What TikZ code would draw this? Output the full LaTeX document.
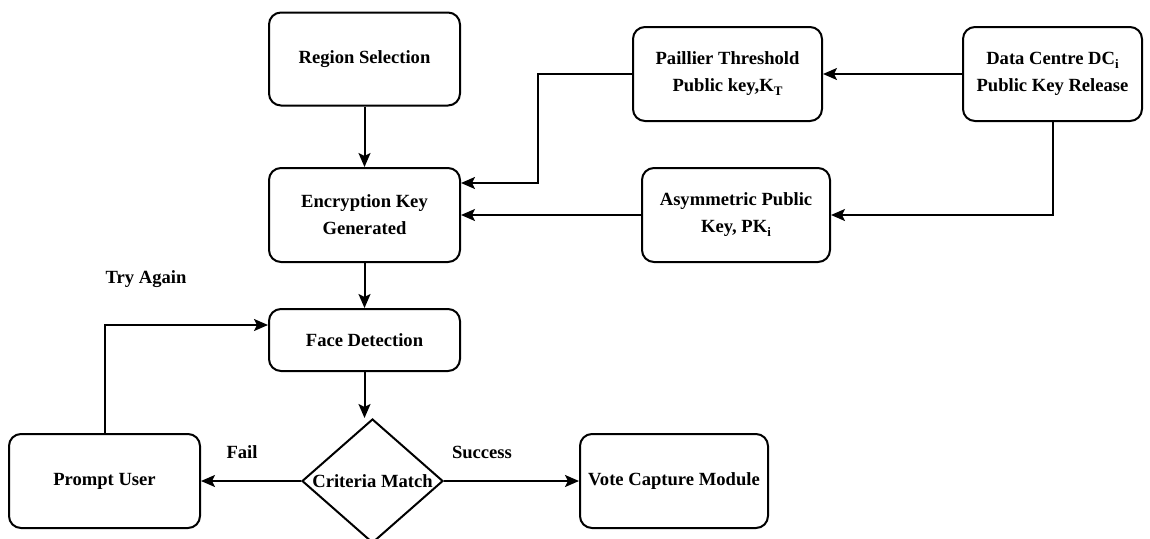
\documentclass[tikz,border=0pt]{standalone}
\usepackage{fontspec}
\setmainfont{Liberation Serif}
\usetikzlibrary{shapes.geometric,arrows.meta}
\newcommand\sbs[1]{\raisebox{-0.4ex}{\fontsize{13}{13}\selectfont #1}}
\begin{document}
\begin{tikzpicture}[x=1pt,y=-1pt,
  box/.style={draw,line width=2pt,rounded corners=12pt,align=center,inner sep=2pt},
  lbl/.style={font=\fontsize{18.6}{27}\selectfont\bfseries},
  arr/.style={line width=2pt,-{Stealth[length=14pt,width=12pt,inset=3pt]}},
  every node/.style={font=\fontsize{18.6}{27}\selectfont\bfseries}]
\clip (0,0) rectangle (1150,538);
\fill[white] (0,0) rectangle (1150,538);
\node[box,minimum width=191pt,minimum height=93pt] (rs) at (364.5,59) {Region Selection};
\node[box,minimum width=191pt,minimum height=94pt] (ekg) at (364.5,215) {Encryption Key\\Generated};
\node[box,minimum width=189pt,minimum height=94pt] (pt) at (727.5,74) {Paillier Threshold\\Public key,K\sbs{T}};
\node[box,minimum width=179pt,minimum height=94pt] (dc) at (1052.5,74) {Data Centre DC\sbs{i}\\Public Key Release};
\node[box,minimum width=188pt,minimum height=94pt] (ak) at (736,215) {Asymmetric Public\\Key, PK\sbs{i}};
\node[box,minimum width=191pt,minimum height=62pt] (fd) at (364.5,340) {Face Detection};
\node[box,minimum width=191pt,minimum height=94pt] (pu) at (104.5,481) {Prompt User};
\node[draw,diamond,line width=2pt,inner sep=0pt,minimum width=141pt,minimum height=124pt] (dm) at (372.5,481) {};
\node (dmt) at (dm.center) {Criteria Match};
\node[box,minimum width=188pt,minimum height=94pt] (vc) at (674,481) {Vote Capture Module};
\node[lbl] (ta) at (146,279) {Try Again};
\node[lbl] (fl) at (242,452) {Fail};
\node[lbl] (sc) at (482,452) {Success};
\coordinate (c1) at (538,183);
\coordinate (c2) at (105,325);
\draw[arr] (rs.south) -- (ekg.north);
\draw[arr] (dc.west) -- (pt.east);
\draw[arr] (pt.west) -| (c1) -- (c1 -| ekg.east);
\draw[arr] (dc.south) |- (ak.east);
\draw[arr] (ak.west) -- (ekg.east);
\draw[arr] (ekg.south) -- (fd.north);
\draw[arr] (fd.south) -- (fd.south |- dm.north);
\draw[arr] (dm.west) -- (pu.east);
\draw[arr] (dm.east) -- (vc.west);
\draw[arr] (pu.north -| c2) -- (c2) -- (c2 -| fd.west);
\end{tikzpicture}
\end{document}
